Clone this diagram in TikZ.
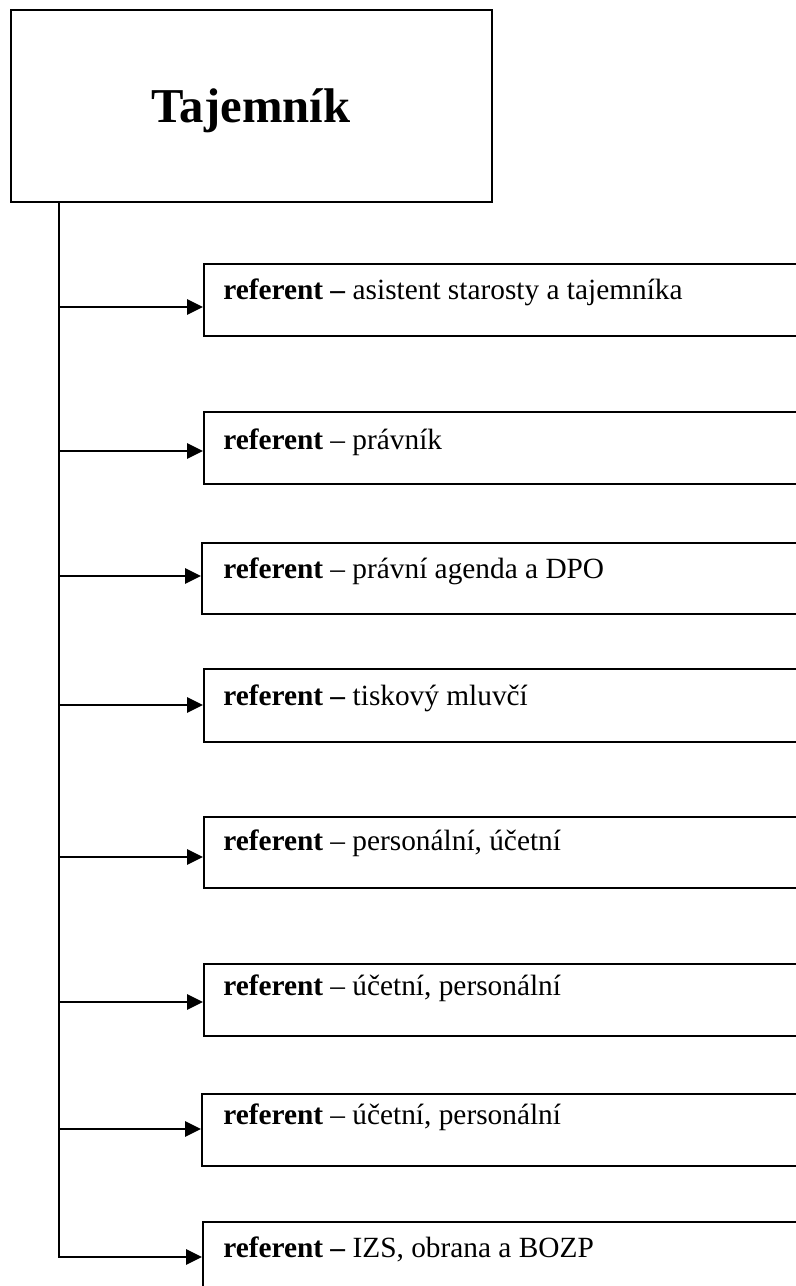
\documentclass[tikz,border=0pt]{standalone}
\usepackage{fontspec}
\setmainfont{Liberation Serif}
\usetikzlibrary{arrows.meta}
\tikzset{
  x=0.75pt, y=-0.75pt,
  headbox/.style={draw, line width=1.6pt, minimum width=360.75pt, minimum height=144pt, inner sep=0pt, anchor=north west},
  refbox/.style={draw, line width=1.15pt, minimum width=465pt, minimum height=54pt, inner sep=0pt, anchor=north west},
  reftext/.style={anchor=base west, inner sep=0pt, font=\fontsize{22}{26}\selectfont},
  headtext/.style={anchor=base, inner sep=0pt, font=\fontsize{36.5}{42}\selectfont\bfseries},
  conn/.style={line width=1.3pt},
  arr/.style={conn, -{Triangle[length=12pt, width=11.5pt]}}
}
\begin{document}
\begin{tikzpicture}
\useasboundingbox (0,0) rectangle (796,1286);
\clip (0,0) rectangle (796,1286);
\fill[white] (0,0) rectangle (796,1286);

% head
\node[headbox] (top) at (10,9) {};
\node[headtext] (toptext) at (251,122) {Tajemník};

% boxes
\node[refbox] (b1) at (203,263) {};
\node[refbox] (b2) at (203,411) {};
\node[refbox, minimum height=53.25pt] (b3) at (201,542) {};
\node[refbox, minimum height=54.75pt] (b4) at (203,668) {};
\node[refbox, minimum height=53.25pt] (b5) at (203,816) {};
\node[refbox] (b6) at (203,963) {};
\node[refbox] (b7) at (201,1093) {};
\node[refbox, minimum height=75pt] (b8) at (202,1221) {};

% texts
\node[reftext] (t1) at (223,299) {\textbf{referent –} asistent starosty a tajemníka};
\node[reftext] (t2) at (223,449) {\textbf{referent} – právník};
\node[reftext] (t3) at (223,578) {\textbf{referent} – právní agenda a DPO};
\node[reftext] (t4) at (223,705) {\textbf{referent –} tiskový mluvčí};
\node[reftext] (t5) at (223,850) {\textbf{referent} – personální, účetní};
\node[reftext] (t6) at (223,995) {\textbf{referent} – účetní, personální};
\node[reftext] (t7) at (223,1124) {\textbf{referent} – účetní, personální};
\node[reftext] (t8) at (223,1257) {\textbf{referent –} IZS, obrana a BOZP};

% connector start points on the trunk
\coordinate (a1) at (59,307);
\coordinate (a2) at (59,451);
\coordinate (a3) at (59,576);
\coordinate (a4) at (59,705);
\coordinate (a5) at (59,857);
\coordinate (a6) at (59,1002);
\coordinate (a7) at (59,1129);
\coordinate (a8) at (59,1257);

% trunk and last arrow
\draw[arr] (top.south -| a8) -- (a8) -- (a8 -| b8.west);
\draw[arr] (a1) -- (a1 -| b1.west);
\draw[arr] (a2) -- (a2 -| b2.west);
\draw[arr] (a3) -- (a3 -| b3.west);
\draw[arr] (a4) -- (a4 -| b4.west);
\draw[arr] (a5) -- (a5 -| b5.west);
\draw[arr] (a6) -- (a6 -| b6.west);
\draw[arr] (a7) -- (a7 -| b7.west);
\end{tikzpicture}
\end{document}
